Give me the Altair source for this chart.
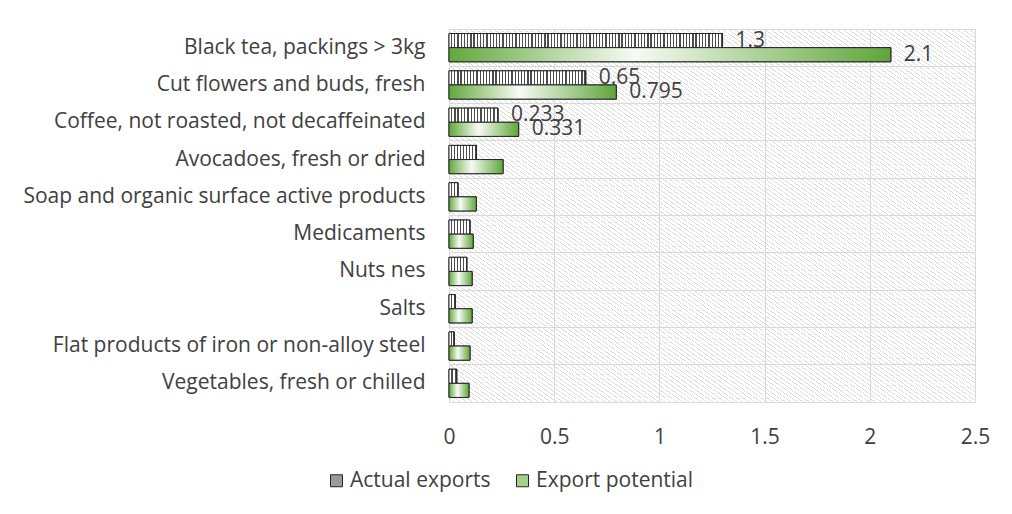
import altair as alt

categories = [
    "Black tea, packings > 3kg",
    "Cut flowers and buds, fresh",
    "Coffee, not roasted, not decaffeinated",
    "Avocadoes, fresh or dried",
    "Soap and organic surface active products",
    "Medicaments",
    "Nuts nes",
    "Salts",
    "Flat products of iron or non-alloy steel",
    "Vegetables, fresh or chilled",
]
actual = [1.3, 0.65, 0.233, 0.13, 0.043, 0.1, 0.085, 0.03, 0.025, 0.037]
potential = [2.1, 0.795, 0.331, 0.257, 0.13, 0.115, 0.11, 0.11, 0.1, 0.095]
actual_labels = ["1.3", "0.65", "0.233", "", "", "", "", "", "", ""]
potential_labels = ["2.1", "0.795", "0.331", "", "", "", "", "", "", ""]
series = ["Actual exports", "Export potential"]
x_ticks = [0, 0.5, 1, 1.5, 2, 2.5]

W, H = 526, 373
XMAX = 2.5
FONT = "Open Sans"
FS = 21
TXT = "#404040"


def stripe_gradient(value):
    px = value / XMAX * W
    n = max(1, round(px / 3.2))
    stops = []
    for i in range(n):
        a = i / n
        m = (i + 0.6) / n
        c = (i + 1) / n
        stops += [
            {"offset": a, "color": "#ffffff"},
            {"offset": m, "color": "#ffffff"},
            {"offset": m, "color": "#4d4d4d"},
            {"offset": c, "color": "#4d4d4d"},
        ]
    return {"gradient": "linear", "x1": 0, "y1": 0, "x2": 1, "y2": 0, "stops": stops}


green_grad = {
    "gradient": "linear", "x1": 0, "y1": 0, "x2": 1, "y2": 0,
    "stops": [
        {"offset": 0, "color": "#62a83c"},
        {"offset": 0.42, "color": "#f7fbf4"},
        {"offset": 1, "color": "#5fa53a"},
    ],
}

records = []
for i, cat in enumerate(categories):
    records.append({"category": cat, "series": series[0], "value": actual[i],
                    "label": actual_labels[i], "grad": stripe_gradient(actual[i])})
    records.append({"category": cat, "series": series[1], "value": potential[i],
                    "label": potential_labels[i], "grad": green_grad})

data = alt.Data(values=records)

# hatched background stops (style only)
hatch_stops = []
N = 175
for i in range(N):
    a = i / N
    m = (i + 0.8) / N
    c = (i + 1) / N
    hatch_stops += [
        alt.GradientStop(offset=a, color="rgba(255,255,255,0)"),
        alt.GradientStop(offset=m, color="rgba(255,255,255,0)"),
        alt.GradientStop(offset=m, color="#dadada"),
        alt.GradientStop(offset=c, color="#dadada"),
    ]
hatch = alt.LinearGradient(gradient="linear", x1=0, y1=1, x2=1, y2=0, stops=hatch_stops)

x_enc = alt.X(
    "value:Q",
    scale=alt.Scale(domain=[0, XMAX], nice=False),
    axis=alt.Axis(values=x_ticks, format=".1~f", title=None, grid=True, gridColor="#d9d9d9",
                  ticks=False, domain=False, labelFontSize=FS, labelColor=TXT, labelFont=FONT,
                  labelPadding=24, labelFlush=False),
)
y_enc = alt.Y(
    "category:N",
    sort=categories,
    scale=alt.Scale(paddingInner=0, paddingOuter=0),
    axis=alt.Axis(title=None, grid=True, bandPosition=0, gridColor="#d9d9d9", ticks=False,
                  domain=False, labelFontSize=FS, labelColor=TXT, labelFont=FONT, labelPadding=24,
                  labelLimit=450),
)
yoff = alt.YOffset("series:N", sort=series,
                   scale=alt.Scale(paddingInner=0, paddingOuter=0.32))

bg = alt.Chart(alt.Data(values=[{"a": 0}])).mark_rect(fill=hatch).encode(
    x=alt.datum(0, type="quantitative"), x2=alt.datum(XMAX)
)

base = alt.Chart(data).mark_bar(stroke="#262626", strokeWidth=1).encode(
    x=x_enc, y=y_enc, yOffset=yoff,
    color=alt.Color("series:N", sort=series,
                    scale=alt.Scale(domain=series, range=["#9a9a9a", "#a8d08d"]),
                    legend=alt.Legend(title=None, orient="none", direction="horizontal",
                                      legendX=-123, legendY=441, symbolType="square",
                                      symbolSize=144, symbolStrokeColor="#262626",
                                      symbolStrokeWidth=1, labelFontSize=FS, labelColor=TXT,
                                      labelFont=FONT, labelOffset=3, columnPadding=21,
                                      labelLimit=300)),
)

overlay = alt.Chart(data).mark_bar(stroke="#262626", strokeWidth=1).encode(
    x=x_enc, y=y_enc, yOffset=yoff,
    fill=alt.Fill("grad:N", scale=None, legend=None),
)

labels = alt.Chart(data).transform_filter("datum.label != ''").mark_text(
    align="left", baseline="middle", dx=13, fontSize=FS, font=FONT, color=TXT
).encode(x=x_enc, y=y_enc, yOffset=yoff, text="label:N")

chart = alt.layer(bg, base, overlay, labels).properties(
    width=W, height=H,
    autosize=alt.AutoSizeParams(type="none"),
    padding={"left": 449, "top": 29, "right": 37, "bottom": 112},
).configure_view(stroke="#d9d9d9").configure(background="white")

chart.save("out.html", embed_options={"renderer": "svg", "actions": False})
